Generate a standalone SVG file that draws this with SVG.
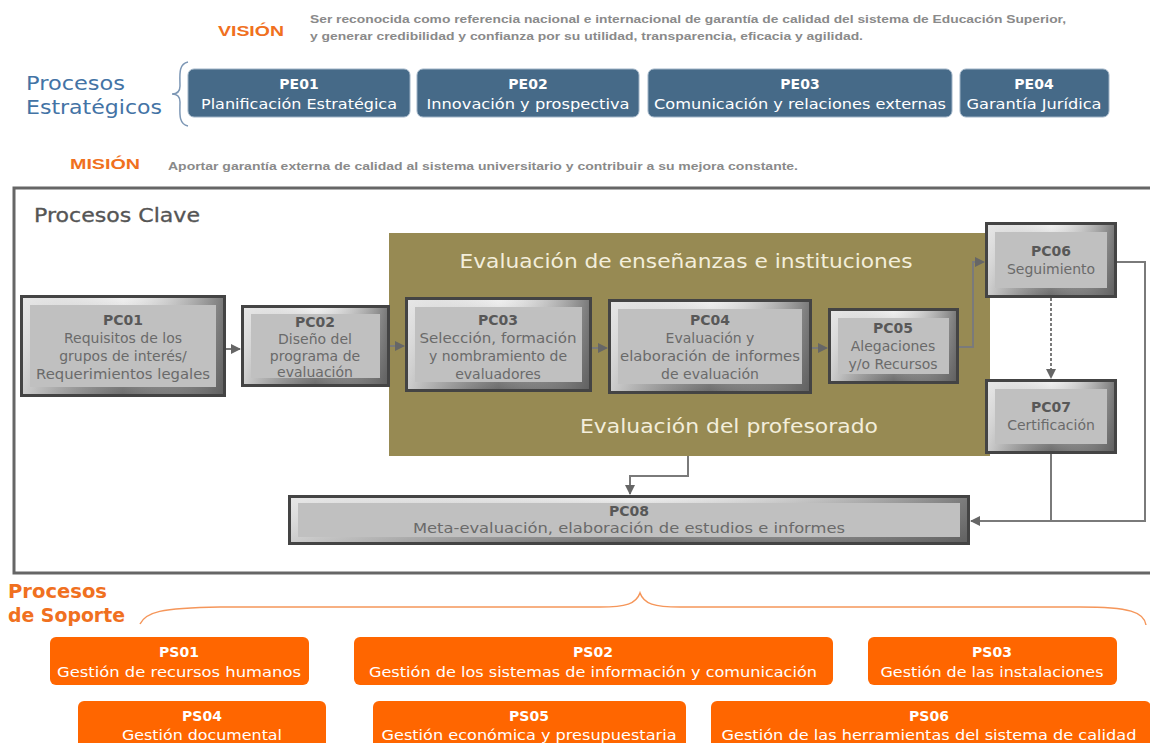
<svg xmlns="http://www.w3.org/2000/svg" width="1150" height="743" viewBox="0 0 1150 743">
<defs>
<linearGradient id="bev" x1="0" y1="0" x2="0" y2="1">
<stop offset="0" stop-color="#f0f0f0"/>
<stop offset="0.5" stop-color="#b8b8b8"/>
<stop offset="1" stop-color="#6e6e6e"/>
</linearGradient>
<linearGradient id="bevh" x1="0" y1="0" x2="1" y2="0">
<stop offset="0" stop-color="#e4e4e4" stop-opacity="0.8"/>
<stop offset="0.5" stop-color="#c0c0c0" stop-opacity="0"/>
<stop offset="1" stop-color="#5e5e5e" stop-opacity="0.8"/>
</linearGradient>
<marker id="ah" viewBox="0 0 10 10" refX="9" refY="5" markerWidth="5" markerHeight="5" orient="auto">
<path d="M0,0 L10,5 L0,10 z" fill="#666"/>
</marker>
<style>
text{font-family:"DejaVu Sans","Liberation Sans",sans-serif}
.outer{fill:#444}
.bv{fill:url(#bev)}
.bvh{fill:url(#bevh)}
.face{fill:#c0c0c0}
.pct{font-size:14px;font-weight:bold;fill:#585858;text-anchor:middle}
.pcb{font-size:14px;fill:#6a6a6a;text-anchor:middle}
.pe{fill:#466a88;stroke:#9fb3c6;stroke-width:1}
.pet{font-size:14px;font-weight:bold;fill:#fff;text-anchor:middle}
.peb{font-size:14px;fill:#fff;text-anchor:middle}
.ps{fill:#ff6600}
.pst{font-size:14px;font-weight:bold;fill:#fff;text-anchor:middle}
.psb{font-size:14px;fill:#fff;text-anchor:middle}
.conn{fill:none;stroke:#7a7a7a;stroke-width:2}
.lbl-or{fill:#f07020;font-weight:bold;font-family:"Liberation Sans",sans-serif}
.small{fill:#8a8a8a;font-size:11px;font-weight:bold;font-family:"Liberation Sans",sans-serif}
</style>
</defs>
<rect width="1150" height="743" fill="#fff"/>

<g id="vision">
<text class="lbl-or" x="218" y="36" font-size="14" textLength="66" lengthAdjust="spacingAndGlyphs">VISIÓN</text>
<text class="small" x="310" y="23" textLength="756" lengthAdjust="spacingAndGlyphs">Ser reconocida como referencia nacional e internacional de garantía de calidad del sistema de Educación Superior,</text>
<text class="small" x="310" y="40" textLength="553" lengthAdjust="spacingAndGlyphs">y generar credibilidad y confianza por su utilidad, transparencia, eficacia y agilidad.</text>
</g>
<g id="mision">
<text class="lbl-or" x="70" y="169" font-size="14" textLength="70" lengthAdjust="spacingAndGlyphs">MISIÓN</text>
<text class="small" x="168" y="170" textLength="630" lengthAdjust="spacingAndGlyphs">Aportar garantía externa de calidad al sistema universitario y contribuir a su mejora constante.</text>
</g>

<g id="estrategicos-label">
<text x="26" y="90" font-size="20" fill="#4373a5" font-family="Liberation Sans,sans-serif" textLength="99" lengthAdjust="spacingAndGlyphs">Procesos</text>
<text x="26" y="114" font-size="20" fill="#4373a5" font-family="Liberation Sans,sans-serif" textLength="136" lengthAdjust="spacingAndGlyphs">Estratégicos</text>
<path d="M188,62 C178,64 180,76 180,86 C180,92 176,94 172,94 C176,94 180,96 180,102 C180,112 178,124 188,126" fill="none" stroke="#7d97b5" stroke-width="1.5"/>
</g>
<g id="PE01"><rect class="pe" x="188" y="69" width="222" height="48" rx="6"/><text class="pet" x="299" y="89">PE01</text><text class="peb" x="299" y="109" textLength="196" lengthAdjust="spacingAndGlyphs">Planificación Estratégica</text></g>
<g id="PE02"><rect class="pe" x="417" y="69" width="222" height="48" rx="6"/><text class="pet" x="528" y="89">PE02</text><text class="peb" x="528" y="109" textLength="203" lengthAdjust="spacingAndGlyphs">Innovación y prospectiva</text></g>
<g id="PE03"><rect class="pe" x="648" y="69" width="304" height="48" rx="6"/><text class="pet" x="800" y="89">PE03</text><text class="peb" x="800" y="109" textLength="292" lengthAdjust="spacingAndGlyphs">Comunicación y relaciones externas</text></g>
<g id="PE04"><rect class="pe" x="960" y="69" width="149" height="48" rx="6"/><text class="pet" x="1034" y="89">PE04</text><text class="peb" x="1034" y="109" textLength="135" lengthAdjust="spacingAndGlyphs">Garantía Jurídica</text></g>

<g id="clave-frame">
<path d="M1152,188 L14,188 L14,573 L1152,573" fill="none" stroke="#666" stroke-width="3"/>
<text x="34" y="222" font-size="19" fill="#555" stroke="#555" stroke-width="0.3" textLength="166" lengthAdjust="spacingAndGlyphs">Procesos Clave</text>
</g>
<g id="olive-area">
<rect x="389" y="233" width="601" height="223" fill="#978a53"/>
<text x="686" y="268" font-size="20" fill="#f3eedb" text-anchor="middle" textLength="453" lengthAdjust="spacingAndGlyphs">Evaluación de enseñanzas e instituciones</text>
<text x="729" y="433" font-size="20" fill="#f3eedb" text-anchor="middle" textLength="298" lengthAdjust="spacingAndGlyphs">Evaluación del profesorado</text>
</g>

<g id="connectors">
<path class="conn" d="M226,349 L240,349" marker-end="url(#ah)"/>
<path class="conn" d="M390,346 L404,346" marker-end="url(#ah)"/>
<path class="conn" d="M592,348 L607,348" marker-end="url(#ah)"/>
<path class="conn" d="M812,348 L827,348" marker-end="url(#ah)"/>
<path class="conn" d="M959,347 L973,347 L973,262 L984,262" marker-end="url(#ah)"/>
<path class="conn" d="M1051,298 L1051,378" stroke-dasharray="3,2" marker-end="url(#ah)"/>
<path class="conn" d="M1117,262 L1145,262 L1145,521 L971,521" marker-end="url(#ah)"/>
<path class="conn" d="M1051,454 L1051,521"/>
<path class="conn" d="M688,456 L688,476 L630,476 L630,494" marker-end="url(#ah)"/>
</g>

<g id="PC01"><rect class="outer" x="20" y="295" width="206" height="102"/><rect class="bv" x="23" y="298" width="200" height="96"/><rect class="bvh" x="23" y="298" width="200" height="96"/><rect class="face" x="30" y="305" width="186" height="82"/>
<text class="pct" x="123" y="325">PC01</text><text class="pcb" x="123" y="343">Requisitos de los</text><text class="pcb" x="123" y="361">grupos de interés/</text><text class="pcb" x="123" y="379" textLength="174" lengthAdjust="spacingAndGlyphs">Requerimientos legales</text></g>
<g id="PC02"><rect class="outer" x="241" y="305" width="149" height="82"/><rect class="bv" x="244" y="308" width="143" height="76"/><rect class="bvh" x="244" y="308" width="143" height="76"/><rect class="face" x="251" y="314" width="129" height="64"/>
<text class="pct" x="315" y="327">PC02</text><text class="pcb" x="315" y="344">Diseño del</text><text class="pcb" x="315" y="361">programa de</text><text class="pcb" x="315" y="377">evaluación</text></g>
<g id="PC03"><rect class="outer" x="405" y="297" width="187" height="95"/><rect class="bv" x="408" y="300" width="181" height="89"/><rect class="bvh" x="408" y="300" width="181" height="89"/><rect class="face" x="415" y="307" width="167" height="75"/>
<text class="pct" x="498" y="325">PC03</text><text class="pcb" x="498" y="343" textLength="157" lengthAdjust="spacingAndGlyphs">Selección, formación</text><text class="pcb" x="498" y="361">y nombramiento de</text><text class="pcb" x="498" y="379">evaluadores</text></g>
<g id="PC04"><rect class="outer" x="608" y="299" width="204" height="95"/><rect class="bv" x="611" y="302" width="198" height="89"/><rect class="bvh" x="611" y="302" width="198" height="89"/><rect class="face" x="618" y="309" width="184" height="75"/>
<text class="pct" x="710" y="325">PC04</text><text class="pcb" x="710" y="343">Evaluación y</text><text class="pcb" x="710" y="361" textLength="180" lengthAdjust="spacingAndGlyphs">elaboración de informes</text><text class="pcb" x="710" y="379">de evaluación</text></g>
<g id="PC05"><rect class="outer" x="828" y="308" width="131" height="76"/><rect class="bv" x="831" y="311" width="125" height="70"/><rect class="bvh" x="831" y="311" width="125" height="70"/><rect class="face" x="838" y="318" width="111" height="56"/>
<text class="pct" x="893" y="333">PC05</text><text class="pcb" x="893" y="351">Alegaciones</text><text class="pcb" x="893" y="369">y/o Recursos</text></g>
<g id="PC06"><rect class="outer" x="985" y="222" width="132" height="76"/><rect class="bv" x="988" y="225" width="126" height="70"/><rect class="bvh" x="988" y="225" width="126" height="70"/><rect class="face" x="995" y="232" width="112" height="56"/>
<text class="pct" x="1051" y="256">PC06</text><text class="pcb" x="1051" y="274">Seguimiento</text></g>
<g id="PC07"><rect class="outer" x="985" y="379" width="132" height="75"/><rect class="bv" x="988" y="382" width="126" height="69"/><rect class="bvh" x="988" y="382" width="126" height="69"/><rect class="face" x="995" y="389" width="112" height="55"/>
<text class="pct" x="1051" y="412">PC07</text><text class="pcb" x="1051" y="430">Certificación</text></g>
<g id="PC08"><rect class="outer" x="288" y="495" width="682" height="50"/><rect class="bv" x="291" y="498" width="676" height="44"/><rect class="bvh" x="291" y="498" width="676" height="44"/><rect class="face" x="298" y="503" width="662" height="34"/>
<text class="pct" x="629" y="516">PC08</text><text class="pcb" x="629" y="533" textLength="432" lengthAdjust="spacingAndGlyphs">Meta-evaluación, elaboración de estudios e informes</text></g>

<g id="soporte-label">
<text x="8" y="598" font-size="20" font-weight="bold" fill="#f07020" font-family="Liberation Sans,sans-serif" textLength="99" lengthAdjust="spacingAndGlyphs">Procesos</text>
<text x="8" y="622" font-size="20" font-weight="bold" fill="#f07020" font-family="Liberation Sans,sans-serif" textLength="117" lengthAdjust="spacingAndGlyphs">de Soporte</text>
<path d="M140,624 C146,612 160,608 220,607 L600,607 C626,607 636,604 640,593 C644,604 654,607 680,607 L1080,607 C1130,607 1144,612 1146,625" fill="none" stroke="#f5965a" stroke-width="1.5"/>
</g>
<g id="PS01"><rect class="ps" x="50" y="637" width="259" height="48" rx="6"/><text class="pst" x="179" y="657">PS01</text><text class="psb" x="179" y="677" textLength="244" lengthAdjust="spacingAndGlyphs">Gestión de recursos humanos</text></g>
<g id="PS02"><rect class="ps" x="354" y="637" width="479" height="48" rx="6"/><text class="pst" x="593" y="657">PS02</text><text class="psb" x="593" y="677" textLength="448" lengthAdjust="spacingAndGlyphs">Gestión de los sistemas de información y comunicación</text></g>
<g id="PS03"><rect class="ps" x="868" y="637" width="249" height="48" rx="6"/><text class="pst" x="992" y="657">PS03</text><text class="psb" x="992" y="677" textLength="223" lengthAdjust="spacingAndGlyphs">Gestión de las instalaciones</text></g>
<g id="PS04"><rect class="ps" x="78" y="701" width="248" height="52" rx="6"/><text class="pst" x="202" y="721">PS04</text><text class="psb" x="202" y="740" textLength="160" lengthAdjust="spacingAndGlyphs">Gestión documental</text></g>
<g id="PS05"><rect class="ps" x="373" y="701" width="313" height="52" rx="6"/><text class="pst" x="529" y="721">PS05</text><text class="psb" x="529" y="740" textLength="295" lengthAdjust="spacingAndGlyphs">Gestión económica y presupuestaria</text></g>
<g id="PS06"><rect class="ps" x="711" y="701" width="440" height="52" rx="6"/><text class="pst" x="929" y="721">PS06</text><text class="psb" x="929" y="740" textLength="415" lengthAdjust="spacingAndGlyphs">Gestión de las herramientas del sistema de calidad</text></g>
</svg>
